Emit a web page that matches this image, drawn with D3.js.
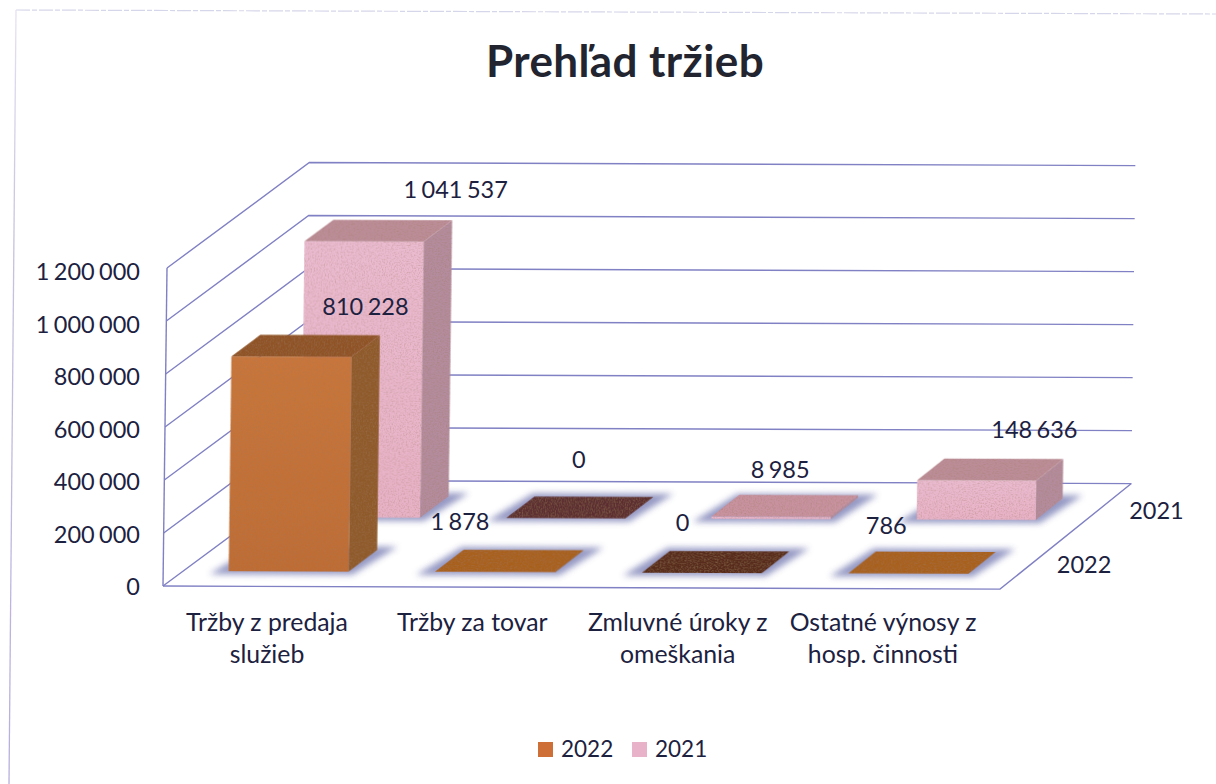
<!DOCTYPE html>
<html><head><meta charset="utf-8">
<script src="https://cdn.jsdelivr.net/npm/d3@7/dist/d3.min.js"></script>
<style>html,body{margin:0;padding:0;background:#fff}svg{display:block}text{font-family:Lato,"Open Sans",sans-serif;fill:#1c2140}</style>
</head><body><svg id="c" width="1216" height="784"></svg>
<script>
const titleText = "Prehľad tržieb";
const categories = [["Tržby z predaja","služieb"],["Tržby za tovar"],["Zmluvné úroky z","omeškania"],["Ostatné výnosy z","hosp. činnosti"]];
const seriesNames = ["2022","2021"];
const values2022 = [810228,1878,0,786];
const values2021 = [1041537,0,8985,148636];
const valueTicks = [0,200000,400000,600000,800000,1000000,1200000];

const svg = d3.select("#c");
const fmt = d3.formatLocale({decimal:",",thousands:"\u2009\u200a",grouping:[3],currency:["",""]}).format(",d");
const catKeys = categories.map((c,i)=>i);
const W = {x0:163,x1:1000,y0:586,depthY:106,depthXL:141,depthXR:130,h:318};
const x = d3.scaleBand().domain(catKeys).range([165,993]).paddingInner(.42).paddingOuter(.21);
const z = d3.scaleBand().domain(seriesNames).range([0,1]).paddingInner(.6).paddingOuter(.28);
const v = d3.scaleLinear().domain([0,1200000]).range([0,W.h]);
const depthX = d3.scaleLinear().domain([W.x0,W.x1]).range([W.depthXL,W.depthXR]);
const P = (px,d,val)=>[px+d*depthX(px), W.y0-d*W.depthY-v(val)];
const pts = a=>a.map(p=>p.join(",")).join(" ");

const defs = svg.append("defs");
defs.append("filter").attr("id","sh").attr("x","-30%").attr("y","-60%").attr("width","160%").attr("height","220%")
  .append("feGaussianBlur").attr("stdDeviation",3);
const noise = defs.append("filter").attr("id","grain").attr("x",0).attr("y",0).attr("width","100%").attr("height","100%");
noise.append("feTurbulence").attr("type","fractalNoise").attr("baseFrequency",.7).attr("numOctaves",2).attr("seed",4).attr("result","n");
noise.append("feColorMatrix").attr("in","n").attr("type","matrix")
  .attr("values","0 0 0 0 0.35  0 0 0 0 0.2  0 0 0 0 0.1  0 0 0 1.1 -0.48").attr("result","speck");
noise.append("feComposite").attr("in","speck").attr("in2","SourceAlpha").attr("operator","in").attr("result","s2");
const nm = noise.append("feMerge");
nm.append("feMergeNode").attr("in","SourceGraphic");
nm.append("feMergeNode").attr("in","s2");

const styles = {
 "2022":{front:"#c9763a",frontB:"#bf6c33",side:"#8f5a2c",top:"#8f5225",flat:"#a8601f",zero:"#57291a",swatch:"#cf6f38"},
 "2021":{front:"#ebbbd0",frontB:"#e8b2c6",side:"#b48c9d",top:"#bc8d98",flat:"#c8929f",zero:"#5b2d33",swatch:"#e8b3c9"}
};
seriesNames.forEach(s=>{
  const g=defs.append("linearGradient").attr("id","f"+s).attr("x1",0).attr("y1",0).attr("x2",0).attr("y2",1);
  g.append("stop").attr("offset",0).attr("stop-color",styles[s].front);
  g.append("stop").attr("offset",1).attr("stop-color",styles[s].frontB);
});

// scan frame
svg.append("path").attr("d","M16 10L1216 14").attr("fill","none").attr("stroke","#d6d6ea").attr("stroke-width",1.2).attr("stroke-dasharray","14 2 5 2");
const fr = defs.append("linearGradient").attr("id","frameL").attr("gradientUnits","userSpaceOnUse").attr("x1",0).attr("y1",10).attr("x2",0).attr("y2",784);
fr.append("stop").attr("offset",0).attr("stop-color","#e6e2f2");
fr.append("stop").attr("offset",.3).attr("stop-color","#c6c2de");
fr.append("stop").attr("offset",1).attr("stop-color","#b8aee0");
svg.append("line").attr("x1",16).attr("y1",10).attr("x2",9).attr("y2",784).attr("stroke","url(#frameL)").attr("stroke-width",1.3);

// title
svg.append("text").attr("x",625).attr("y",77).attr("text-anchor","middle").attr("font-size",44).attr("font-weight",700).attr("letter-spacing",.4).style("fill","#22252f").text(titleText);

// plot group carries the slight scan skew
const plot = svg.append("g").attr("transform",`matrix(1,0.0037,-0.0126,1,${0.0126*586},${-0.0037*163})`);
const grid = plot.append("g").attr("fill","none").attr("stroke","#8080c4").attr("stroke-width",1.4);
valueTicks.forEach(t=>{
  grid.append("polyline").attr("points",pts([P(W.x0,0,t),P(W.x0,1,t),P(W.x1,1,t)]));
});
grid.append("line").attr("x1",P(W.x0,0,0)[0]).attr("y1",P(W.x0,0,0)[1]).attr("x2",P(W.x0,0,1200000)[0]).attr("y2",P(W.x0,0,1200000)[1]);
grid.append("polyline").attr("points",pts([P(W.x0,0,0),P(W.x1,0,0),P(W.x1,1,0)]));

// bars, back series first
const seriesValues = {"2022":values2022,"2021":values2021};
[...seriesNames].reverse().forEach(s=>{
  const g=plot.append("g");
  const st=styles[s], d0=z(s), d1=z(s)+z.bandwidth();
  seriesValues[s].forEach((val,i)=>{
    const xl=x(i), xr=x(i)+x.bandwidth();
    const sd0=d0-.03, sd1=d1+.03;
    g.append("polygon").attr("points",pts([P(xl-15,sd0,0),P(xr+8,sd0,0),P(xr+16,sd1,0),P(xl-6,sd1,0)]))
      .attr("fill","#8a8ebd").attr("opacity",.9).attr("filter","url(#sh)");
    const bar=g.append("g").attr("filter","url(#grain)");
    const isFlat = v(val)<3;
    bar.append("polygon").attr("points",pts([P(xr,d0,0),P(xr,d1,0),P(xr,d1,val),P(xr,d0,val)])).attr("fill",st.side);
    bar.append("polygon").attr("points",pts([P(xl,d0,0),P(xr,d0,0),P(xr,d0,val),P(xl,d0,val)])).attr("fill",`url(#f${s})`);
    bar.append("polygon").attr("points",pts([P(xl,d0,val),P(xr,d0,val),P(xr,d1,val),P(xl,d1,val)]))
      .attr("fill",val===0?st.zero:(isFlat?st.flat:st.top));
  });
});

// value axis
const yAxisScale = d3.scaleLinear().domain([0,1200000]).range([587,272]);
const yAx = svg.append("g").attr("transform","translate(140,0)")
  .call(d3.axisLeft(yAxisScale).tickValues(valueTicks).tickSize(0).tickPadding(0).tickFormat(fmt));
yAx.select(".domain").remove();
yAx.selectAll("text").attr("font-size",23.5).attr("font-family",null).style("font-family","Lato");

// category labels
const catLabelX = d3.scalePoint().domain(catKeys).range([267,883]);
const catG = svg.append("g");
categories.forEach((lines,i)=>{
  lines.forEach((t,j)=>catG.append("text").attr("x",catLabelX(i)).attr("y",631+j*32).attr("text-anchor","middle").attr("font-size",24.8).text(t));
});

// depth labels
seriesNames.forEach(s=>{
  const p=P(W.x1,z(s)+z.bandwidth()/2,0);
  svg.append("text").attr("x",p[0]+(s==="2022"?25:31)).attr("y",p[1]+13).attr("font-size",23.5).text(s);
});

// value labels (hand-placed in the original chart)
const labelOffset2022=[[77,-41],[-35,-40],[-19,-40],[-22,-37]];
const labelOffset2021=[[96,-43],[14,-49],[10,-36],[59,-39]];
const lab=(vals,off,s)=>vals.forEach((val,i)=>{
  const p=P(x(i)+x.bandwidth()/2,z(s),val);
  svg.append("text").attr("x",p[0]+off[i][0]).attr("y",p[1]+off[i][1]).attr("text-anchor","middle").attr("font-size",23.5).text(fmt(val));
});
lab(values2022,labelOffset2022,"2022");
lab(values2021,labelOffset2021,"2021");

// legend
const legendX = d3.scalePoint().domain(seriesNames).range([538,632]);
seriesNames.forEach(s=>{
  svg.append("rect").attr("x",legendX(s)).attr("y",742).attr("width",15).attr("height",15).attr("fill",styles[s].swatch);
  svg.append("text").attr("x",legendX(s)+23).attr("y",757).attr("font-size",22.5).text(s);
});
</script></body></html>
